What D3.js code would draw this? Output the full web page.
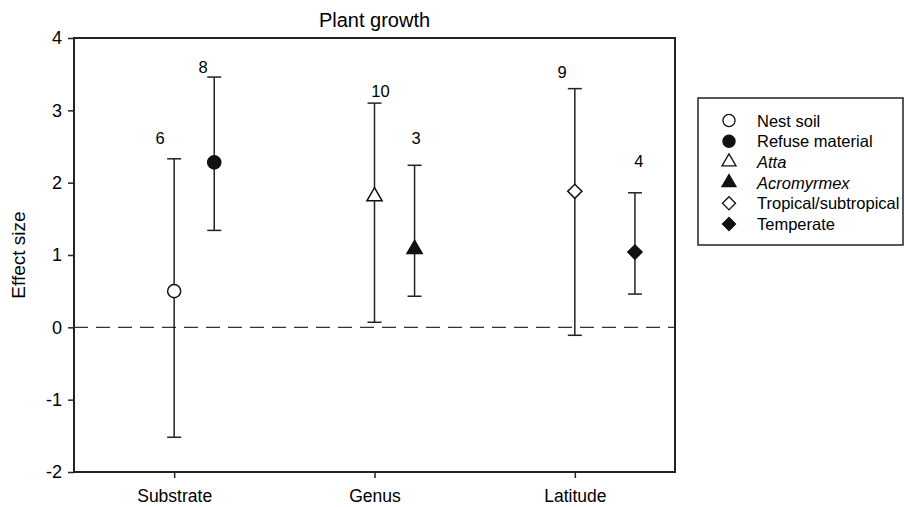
<!DOCTYPE html>
<html>
<head>
<meta charset="utf-8">
<script src="https://cdn.jsdelivr.net/npm/d3@7"></script>
<style>
  body { margin: 0; background: #fff; }
  text { font-family: "Liberation Sans", Arial, sans-serif; fill: #000; }
</style>
</head>
<body>
<script>
'use strict';
// categories on x axis
const categories = ['Substrate', 'Genus', 'Latitude'];
// one entry per group
const groups = ['Nest soil', 'Refuse material', 'Atta', 'Acromyrmex', 'Tropical/subtropical', 'Temperate'];
const groupX = [1, 1.2, 2, 2.2, 3, 3.3];
const means = [0.50, 2.28, 1.81, 1.08, 1.88, 1.04];
const lower = [-1.52, 1.34, 0.07, 0.43, -0.11, 0.46];
const upper = [2.33, 3.46, 3.10, 2.24, 3.30, 1.86];
const shapes = ['circle', 'circle', 'triangle', 'triangle', 'diamond', 'diamond'];
const filled = [false, true, false, true, false, true];
const italic = [false, false, true, true, false, false];
// sample sizes and where they sit (data units)
const nLabels = ['6', '8', '10', '3', '9', '4'];
const nLabelX = [0.93, 1.145, 2.03, 2.207, 2.936, 3.32];
const nLabelY = [2.53, 3.52, 3.19, 2.53, 3.45, 2.21];
const yTicks = [-2, -1, 0, 1, 2, 3, 4];

const W = 905, H = 507;
const m = { left: 74, right: 230, top: 38, bottom: 35 };

const svg = d3.select('body').append('svg')
  .attr('width', W)
  .attr('height', H);

const x = d3.scaleLinear()
  .domain([0.5, 3.5])
  .range([m.left, W - m.right]);
const y = d3.scaleLinear()
  .domain([-2, 4])
  .range([H - m.bottom, m.top]);

const symbolType = { circle: d3.symbolCircle, triangle: d3.symbolTriangle, diamond: d3.symbolSquare };
const symbolSize = { circle: 135, triangle: 100, diamond: 100 };
const symbolRot = { circle: 0, triangle: 0, diamond: 45 };

function sym(shape, k) {
  return d3.symbol().type(symbolType[shape]).size(symbolSize[shape] * (k || 1))();
}

// title
svg.append('text')
  .attr('x', (x.range()[0] + x.range()[1]) / 2)
  .attr('y', 27)
  .attr('text-anchor', 'middle')
  .style('font-size', '20px')
  .text('Plant growth');

// axes
const yAxis = d3.axisLeft(y).tickValues(yTicks)
  .tickFormat((d) => String(d)).tickSize(6).tickPadding(6);
const gy = svg.append('g')
  .attr('transform', 'translate(' + m.left + ',0)')
  .call(yAxis);
gy.selectAll('text').style('font-size', '18px');

const xAxis = d3.axisBottom(x).tickValues([1, 2, 3])
  .tickFormat((d, i) => categories[i]).tickSize(6).tickPadding(12);
const gx = svg.append('g')
  .attr('transform', 'translate(0,' + (H - m.bottom) + ')')
  .call(xAxis);
gx.selectAll('text').style('font-size', '17.5px');

svg.selectAll('.domain').remove();
svg.selectAll('.tick line').attr('stroke', '#222').attr('stroke-width', 1.5);

// frame
svg.append('rect')
  .attr('x', m.left)
  .attr('y', m.top)
  .attr('width', x.range()[1] - m.left)
  .attr('height', y(-2) - m.top)
  .attr('fill', 'none')
  .attr('stroke', '#222')
  .attr('stroke-width', 2);

// zero line
svg.append('line')
  .attr('x1', m.left)
  .attr('x2', x.range()[1])
  .attr('y1', y(0))
  .attr('y2', y(0))
  .attr('stroke', '#333')
  .attr('stroke-width', 1.3)
  .attr('stroke-dasharray', '14,8');

svg.append('text')
  .attr('transform', 'translate(25,' + ((y(4) + y(-2)) / 2) + ') rotate(-90)')
  .attr('text-anchor', 'middle')
  .style('font-size', '19px')
  .text('Effect size');

// error bars
const idx = d3.range(groups.length);
const bars = svg.append('g').selectAll('g')
  .data(idx)
  .enter()
  .append('g')
  .attr('stroke', '#222')
  .attr('stroke-width', 1.5);
bars.append('line')
  .attr('x1', (i) => x(groupX[i]))
  .attr('x2', (i) => x(groupX[i]))
  .attr('y1', (i) => y(lower[i]))
  .attr('y2', (i) => y(upper[i]));
bars.append('line')
  .attr('x1', (i) => x(groupX[i]) - 7)
  .attr('x2', (i) => x(groupX[i]) + 7)
  .attr('y1', (i) => y(upper[i]))
  .attr('y2', (i) => y(upper[i]));
bars.append('line')
  .attr('x1', (i) => x(groupX[i]) - 7)
  .attr('x2', (i) => x(groupX[i]) + 7)
  .attr('y1', (i) => y(lower[i]))
  .attr('y2', (i) => y(lower[i]));

// points
svg.append('g').selectAll('path')
  .data(idx)
  .enter()
  .append('path')
  .attr('d', (i) => sym(shapes[i]))
  .attr('transform', (i) => 'translate(' + x(groupX[i]) + ',' + y(means[i]) + ') rotate(' + symbolRot[shapes[i]] + ')')
  .attr('fill', (i) => filled[i] ? '#111' : '#fff')
  .attr('stroke', '#111')
  .attr('stroke-width', 1.5);

// n labels
svg.append('g').selectAll('text')
  .data(idx)
  .enter()
  .append('text')
  .attr('x', (i) => x(nLabelX[i]))
  .attr('y', (i) => y(nLabelY[i]))
  .attr('text-anchor', 'middle')
  .style('font-size', '16.5px')
  .text((i) => nLabels[i]);

// legend
const legend = svg.append('g').attr('transform', 'translate(698,98)');
legend.append('rect')
  .attr('width', 205)
  .attr('height', 147)
  .attr('fill', '#fff')
  .attr('stroke', '#222')
  .attr('stroke-width', 1.5);
const rows = legend.selectAll('.row')
  .data(idx)
  .enter()
  .append('g')
  .attr('class', 'row')
  .attr('transform', (i) => 'translate(31,' + (22.5 + i * 20.7) + ')');
rows.append('path')
  .attr('d', (i) => sym(shapes[i], 0.85))
  .attr('transform', (i) => 'rotate(' + symbolRot[shapes[i]] + ')')
  .attr('fill', (i) => filled[i] ? '#111' : '#fff')
  .attr('stroke', '#111')
  .attr('stroke-width', 1.3);
rows.append('text')
  .attr('x', 28)
  .attr('y', 6)
  .style('font-size', '16.5px')
  .style('font-style', (i) => italic[i] ? 'italic' : 'normal')
  .text((i) => groups[i]);
</script>
</body>
</html>
